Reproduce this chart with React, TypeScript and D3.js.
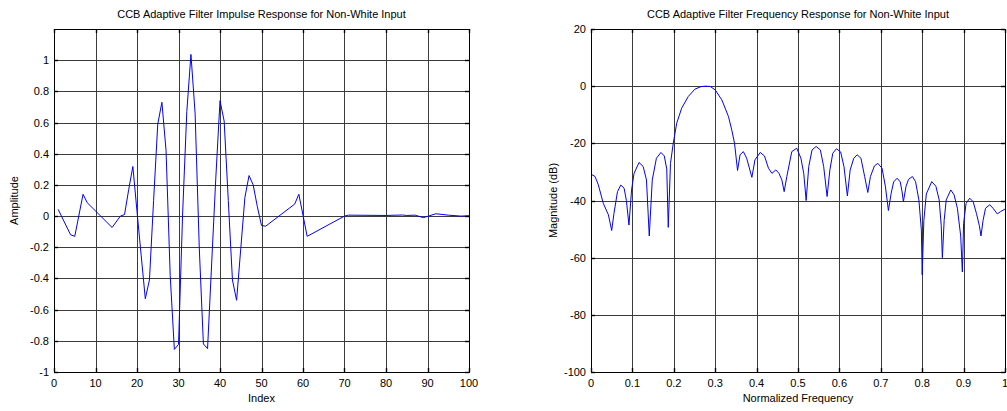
import React from "react";
import * as d3 from "d3";

const impulseIndex = [1, 4, 5, 7, 8, 14, 16, 17, 18, 19, 20, 21, 22, 23, 24, 25, 26, 27, 28, 29, 30, 31, 32, 33, 34, 35, 36, 37, 38, 39, 40, 41, 42, 43, 44, 45, 46, 47, 48, 49, 50, 51, 58, 59, 60, 61, 70, 71, 80, 84, 85, 87, 89, 92, 95, 98, 100];
const impulseValue = [0.043, -0.12, -0.13, 0.14, 0.086, -0.073, 0.0, 0.01, 0.17, 0.318, 0.03, -0.25, -0.53, -0.41, 0.1, 0.59, 0.73, 0.42, -0.38, -0.855, -0.823, 0.02, 0.67, 1.037, 0.66, -0.2, -0.82, -0.85, -0.3, 0.25, 0.74, 0.61, 0.1, -0.41, -0.54, -0.21, 0.12, 0.26, 0.2, 0.06, -0.06, -0.065, 0.077, 0.14, 0.005, -0.13, 0.0, 0.006, 0.004, 0.007, 0.004, 0.006, -0.01, 0.015, 0.006, 0.0, 0.002];

const freqF = [0, 0.0097, 0.0177, 0.0297, 0.042, 0.05, 0.0555, 0.064, 0.072, 0.08, 0.0855, 0.0917, 0.098, 0.104, 0.116, 0.126, 0.134, 0.1407, 0.148, 0.158, 0.169, 0.177, 0.183, 0.1866, 0.192, 0.1987, 0.207, 0.219, 0.235, 0.251, 0.265, 0.276, 0.288, 0.3, 0.316, 0.332, 0.34, 0.3467, 0.354, 0.36, 0.368, 0.376, 0.3886, 0.396, 0.4087, 0.419, 0.4287, 0.437, 0.4465, 0.454, 0.461, 0.4666, 0.473, 0.485, 0.497, 0.507, 0.514, 0.5197, 0.526, 0.534, 0.5438, 0.554, 0.562, 0.5703, 0.577, 0.584, 0.5928, 0.603, 0.611, 0.6193, 0.626, 0.6348, 0.6428, 0.652, 0.661, 0.6686, 0.675, 0.6846, 0.6927, 0.703, 0.711, 0.7184, 0.725, 0.731, 0.7394, 0.747, 0.7514, 0.7546, 0.761, 0.767, 0.7763, 0.784, 0.792, 0.798, 0.8, 0.804, 0.81, 0.823, 0.833, 0.841, 0.846, 0.8487, 0.853, 0.858, 0.869, 0.877, 0.885, 0.893, 0.897, 0.9, 0.906, 0.9148, 0.923, 0.931, 0.938, 0.942, 0.947, 0.953, 0.963, 0.971, 0.9814, 0.989, 1.0];
const freqDb = [-30.8, -31.6, -34.5, -41, -45, -50.5, -44.5, -36.9, -34.6, -35.7, -40, -48.6, -36.3, -30.5, -26.7, -28.1, -32.8, -52.4, -32.8, -25.2, -23.2, -24.4, -29, -49.4, -27, -20, -13, -7.7, -3.6, -1.05, -0.2, 0, -0.1, -1.3, -4.8, -10.6, -15.3, -20, -29.5, -24, -22.9, -25.2, -31.9, -25.8, -23.2, -24.4, -28.7, -30.5, -29.3, -30.5, -32.8, -36.9, -31.6, -22.9, -21.7, -25.2, -30.6, -40, -28.1, -22.3, -21.1, -22.3, -28.1, -38.6, -29.3, -23.5, -21.9, -23, -28.1, -38.4, -29.3, -25.2, -24, -25.2, -31.6, -37.2, -31.6, -27.9, -27, -28.7, -35, -43.5, -37.5, -33.5, -32.2, -33.5, -37, -40.4, -35, -32.6, -31.6, -33.4, -39.8, -50.3, -66, -47, -37.7, -33.4, -35, -39.8, -48.8, -60, -47, -39.8, -36.3, -38, -42.7, -52.4, -65, -48, -41, -39.2, -40.4, -44.5, -48.8, -52.4, -47, -42.7, -41.5, -42.7, -44.7, -43.9, -43];

const leftXTicks = [0, 10, 20, 30, 40, 50, 60, 70, 80, 90, 100];
const leftYTicks = [-1, -0.8, -0.6, -0.4, -0.2, 0, 0.2, 0.4, 0.6, 0.8, 1];
const rightXTicks = [0, 0.1, 0.2, 0.3, 0.4, 0.5, 0.6, 0.7, 0.8, 0.9, 1];
const rightYTicks = [-100, -80, -60, -40, -20, 0, 20];

const FONT = "Liberation Sans, Arial, sans-serif";

type PanelProps = {
  x0: number; x1: number; y0: number; y1: number;
  xDomain: [number, number]; yDomain: [number, number];
  xTicks: number[]; yTicks: number[];
  xs: number[]; ys: number[];
  title: string; xLabel: string; yLabel: string; yLabelX: number;
};

function Panel(p: PanelProps) {
  const xs = d3.scaleLinear().domain(p.xDomain).range([p.x0, p.x1]);
  const ys = d3.scaleLinear().domain(p.yDomain).range([p.y1, p.y0]);
  const line = d3.line<number>().x((_, i) => xs(p.xs[i])).y((d) => ys(d));
  const fmt = (v: number) => String(+v.toFixed(2));
  const tickLen = 4;
  return (
    <g>
      <rect x={p.x0} y={p.y0} width={p.x1 - p.x0} height={p.y1 - p.y0} fill="#fff" />
      {p.xTicks.map((t) => (
        <line key={"gx" + t} x1={Math.round(xs(t)) + 0.5} x2={Math.round(xs(t)) + 0.5} y1={p.y0} y2={p.y1} stroke="#3a3a3a" strokeWidth={1} />
      ))}
      {p.yTicks.map((t) => (
        <line key={"gy" + t} y1={Math.round(ys(t)) + 0.5} y2={Math.round(ys(t)) + 0.5} x1={p.x0} x2={p.x1} stroke="#3a3a3a" strokeWidth={1} />
      ))}
      <path d={line(p.ys) || ""} fill="none" stroke="#0000ff" strokeWidth={1} />
      <rect x={p.x0 + 0.5} y={p.y0 + 0.5} width={p.x1 - p.x0} height={p.y1 - p.y0} fill="none" stroke="#000" strokeWidth={1} />
      {p.xTicks.map((t) => (
        <g key={"tx" + t}>
          <line x1={Math.round(xs(t)) + 0.5} x2={Math.round(xs(t)) + 0.5} y1={p.y1} y2={p.y1 - tickLen} stroke="#000" strokeWidth={1.4} />
          <line x1={Math.round(xs(t)) + 0.5} x2={Math.round(xs(t)) + 0.5} y1={p.y0} y2={p.y0 + tickLen} stroke="#000" strokeWidth={1.4} />
          <text x={xs(t)} y={p.y1 + 15} textAnchor="middle" fontSize={11} fontFamily={FONT} fill="#000">{fmt(t)}</text>
        </g>
      ))}
      {p.yTicks.map((t) => (
        <g key={"ty" + t}>
          <line y1={Math.round(ys(t)) + 0.5} y2={Math.round(ys(t)) + 0.5} x1={p.x0} x2={p.x0 + tickLen} stroke="#000" strokeWidth={1.4} />
          <line y1={Math.round(ys(t)) + 0.5} y2={Math.round(ys(t)) + 0.5} x1={p.x1} x2={p.x1 - tickLen} stroke="#000" strokeWidth={1.4} />
          <text x={p.x0 - 5} y={ys(t) + 4} textAnchor="end" fontSize={11} fontFamily={FONT} fill="#000">{fmt(t)}</text>
        </g>
      ))}
      <text x={(p.x0 + p.x1) / 2} y={18} textAnchor="middle" fontSize={11} fontFamily={FONT} fill="#000">{p.title}</text>
      <text x={(p.x0 + p.x1) / 2} y={p.y1 + 30} textAnchor="middle" fontSize={11} fontFamily={FONT} fill="#000">{p.xLabel}</text>
      <text transform={`translate(${p.yLabelX},${(p.y0 + p.y1) / 2}) rotate(-90)`} textAnchor="middle" fontSize={11} fontFamily={FONT} fill="#000">{p.yLabel}</text>
    </g>
  );
}

export default function App() {
  return (
    <svg width={1007} height={411} style={{ position: "absolute", left: 0, top: 0, background: "#fff" }}>
      <rect x={0} y={0} width={1007} height={411} fill="#fff" />
      <Panel x0={54} x1={469} y0={29} y1={372} xDomain={[0, 100]} yDomain={[-1, 1.2]}
        xTicks={leftXTicks} yTicks={leftYTicks} xs={impulseIndex} ys={impulseValue}
        title="CCB Adaptive Filter Impulse Response for Non-White Input" xLabel="Index" yLabel="Amplitude" yLabelX={18} />
      <Panel x0={591} x1={1005} y0={29} y1={372} xDomain={[0, 1]} yDomain={[-100, 20]}
        xTicks={rightXTicks} yTicks={rightYTicks} xs={freqF} ys={freqDb}
        title="CCB Adaptive Filter Frequency Response for Non-White Input" xLabel="Normalized Frequency" yLabel="Magnitude (dB)" yLabelX={557} />
    </svg>
  );
}
